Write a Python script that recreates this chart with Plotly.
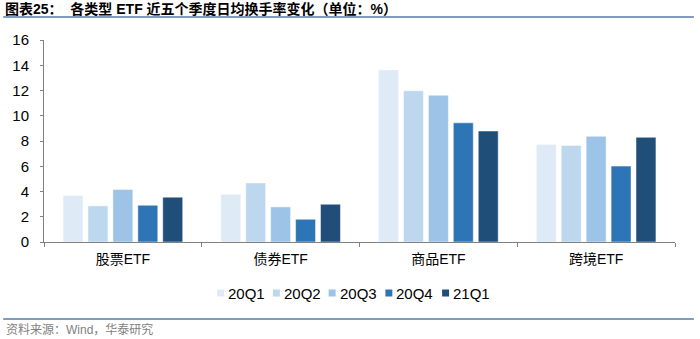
import plotly.graph_objects as go

# Average daily turnover (%) by ETF type, last five quarters
categories = ["股票ETF", "债券ETF", "商品ETF", "跨境ETF"]
quarters = ["20Q1", "20Q2", "20Q3", "20Q4", "21Q1"]
turnover = {
    "20Q1": [3.68, 3.79, 13.63, 7.73],
    "20Q2": [2.86, 4.68, 11.98, 7.65],
    "20Q3": [4.16, 2.78, 11.62, 8.37],
    "20Q4": [2.91, 1.80, 9.44, 6.01],
    "21Q1": [3.55, 2.99, 8.79, 8.29],
}
colors = ["#DEEAF6", "#BDD7EE", "#9DC3E6", "#2E75B6", "#1F4E79"]
y_ticks = [0, 2, 4, 6, 8, 10, 12, 14, 16]

FONT = "Liberation Sans, Arial, Noto Sans CJK SC, sans-serif"

# plot area in pixels
L, R, T, B = 41, 675, 40, 242
PW, PH = R - L, B - T


def px(x):
    return (x - L) / PW


def py(y):
    return (B - y) / PH


fig = go.Figure()
for q, c in zip(quarters, colors):
    fig.add_trace(go.Bar(
        x=categories, y=turnover[q], name=q, showlegend=False,
        marker=dict(color=c, line=dict(color="rgba(255,255,255,0.6)", width=0.8)),
    ))

fig.update_layout(
    width=700, height=339,
    margin=dict(l=L, r=700 - R, t=T, b=339 - B),
    paper_bgcolor="white", plot_bgcolor="white",
    barmode="group", bargap=0.21, bargroupgap=0.2,
    font=dict(family=FONT, size=14, color="#000000"),
    showlegend=False,
    xaxis=dict(
        range=[-0.5, 3.5], showline=True, linecolor="#808080", linewidth=1.3,
        ticks="outside", tickson="boundaries", ticklen=4, tickcolor="#808080",
        tickfont=dict(size=14, color="#000000"), showgrid=False,
        ticklabelstandoff=4,
    ),
    yaxis=dict(
        range=[0, 16], tickvals=y_ticks, showline=True, linecolor="#808080",
        linewidth=1, ticks="outside", ticklen=3, tickcolor="#808080",
        tickfont=dict(size=15, color="#000000"), showgrid=False, zeroline=False,
        ticklabelstandoff=8,
    ),
)

# Legend: small colour squares followed by quarter labels
legend_x = [215, 271, 327, 384, 441]
legend_y = 293
for q, c, lx in zip(quarters, colors, legend_x):
    fig.add_shape(type="rect", xref="paper", yref="paper",
                  x0=px(lx), x1=px(lx + 7), y0=py(legend_y + 3.5), y1=py(legend_y - 3.5),
                  fillcolor=c, line=dict(width=0))
    fig.add_annotation(text=q, xref="paper", yref="paper",
                       x=px(lx + 9), y=py(legend_y), xanchor="left", yanchor="middle",
                       showarrow=False, font=dict(size=15, color="#000000", family=FONT))

# Header title and rules
fig.add_annotation(
    text="<b>图表25：  各类型 ETF 近五个季度日均换手率变化（单位：%）</b>",
    xref="paper", yref="paper", x=px(0), y=py(9),
    xanchor="left", yanchor="middle", showarrow=False,
    font=dict(size=14, color="#000000", family=FONT),
)
for yy in (17, 319):
    fig.add_shape(type="line", xref="paper", yref="paper",
                  x0=px(0), x1=px(694), y0=py(yy), y1=py(yy),
                  line=dict(color="#7F9CC0", width=2))
fig.add_annotation(
    text="资料来源：Wind，华泰研究",
    xref="paper", yref="paper", x=px(1), y=py(329),
    xanchor="left", yanchor="middle", showarrow=False,
    font=dict(size=12, color="#7F7F7F", family=FONT),
)

fig.write_html("out.html")
